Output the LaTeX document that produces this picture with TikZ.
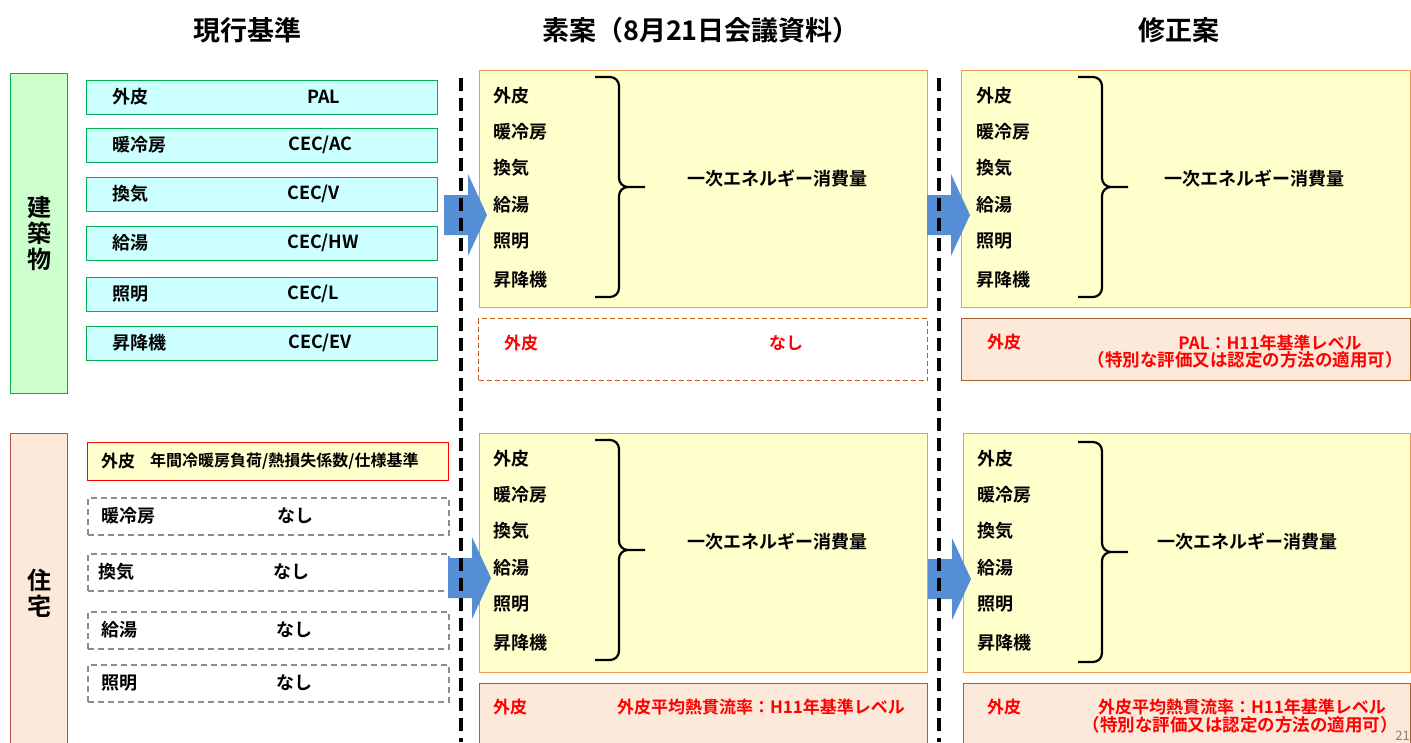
\documentclass[tikz,border=0pt]{standalone}
\usepackage{fontspec}
\setmainfont{Noto Sans CJK JP}[BoldFont=* Bold]
\usetikzlibrary{positioning}
\definecolor{lgreen}{HTML}{CCFFCC}
\definecolor{dgreen}{HTML}{00B050}
\definecolor{lcyan}{HTML}{CCFFFF}
\definecolor{lyellow}{HTML}{FFFFCC}
\definecolor{orangeline}{HTML}{F39A4E}
\definecolor{lpeach}{HTML}{FDE9D9}
\definecolor{brownline}{HTML}{A5642E}
\definecolor{redline}{HTML}{B5504A}
\definecolor{dashbrown}{HTML}{C55A11}
\definecolor{flowblue}{HTML}{558ED5}
\begin{document}
\begin{tikzpicture}[x=1pt,y=-1pt,
  box/.style={rectangle,anchor=north west,inner sep=0pt,line width=1.3pt},
  heading/.style={font=\fontsize{27}{30}\selectfont\bfseries},
  side/.style={font=\fontsize{24}{26}\selectfont\bfseries,align=center},
  lbl/.style={anchor=west,inner sep=0pt,font=\fontsize{18}{20}\selectfont\bfseries},
  redlbl/.style={inner sep=0pt,text=red,font=\fontsize{17}{19}\selectfont\bfseries},
  flow/.style={fill=flowblue},
  divider/.style={line width=3.2pt,dash pattern=on 13pt off 7pt},
  brace/.style={line width=2.2pt,rounded corners=9pt}]
\useasboundingbox (0,0) rectangle (1411,742);

% headings
\node (h1) at (247,30) [heading]{現行基準};
\node (h2) at (701,30) [heading]{素案（8月21日会議資料）};
\node (h3) at (1179,30) [heading]{修正案};

% current standard: buildings
\node (bld) at (10,73) [box,draw=dgreen,fill=lgreen,minimum width=57pt,minimum height=320pt]{};
\node (bldt) at (bld.center) [side]{建\\築\\物};
\foreach \ty/\a/\b/\bx [count=\i] in {80/外皮/PAL/307,128/暖冷房/{CEC/AC}/288,177/換気/{CEC/V}/287,
    226/給湯/{CEC/HW}/287,277/照明/{CEC/L}/287,326/昇降機/{CEC/EV}/288}{
  \node (c\i) at (86,\ty) [box,draw=dgreen,fill=lcyan,minimum width=351pt,minimum height=34pt]{};
  \node (c\i l) at (112,\ty+17) [lbl]{\a};
  \node (c\i r) at (\bx,\ty+17) [lbl]{\b};
}

% current standard: houses
\node (hse) at (10,433) [box,draw=redline,fill=lpeach,minimum width=57pt,minimum height=320pt]{};
\node (hset) at (hse.center) [side]{住\\宅};
\node (env) at (87,442) [box,draw=red,fill=lyellow,minimum width=361pt,minimum height=38pt]{};
\node (envl) at (101,461) [lbl,font=\fontsize{17}{19}\selectfont\bfseries]{外皮};
\node (envr) at (150,461) [lbl,font=\fontsize{16}{18}\selectfont\bfseries]{年間冷暖房負荷/熱損失係数/仕様基準};
\foreach \ty/\a/\lx/\nx [count=\i] in {497/暖冷房/101/277,553/換気/98/273,611/給湯/101/276,664/照明/101/276}{
  \node (n\i) at (87,\ty) [box,draw=gray!90,line width=1.6pt,dash pattern=on 6pt off 4pt,minimum width=361pt,minimum height=37pt]{};
  \node (n\i l) at (\lx,\ty+19) [lbl]{\a};
  \node (n\i r) at (\nx,\ty+19) [lbl]{なし};
}

% proposal and revised proposal
\node (p1) at (479,70) [box,draw=orangeline,fill=lyellow,minimum width=448pt,minimum height=237pt]{};
\node (p2) at (479,433) [box,draw=orangeline,fill=lyellow,minimum width=448pt,minimum height=239pt]{};
\node (q1) at (961,70) [box,draw=orangeline,fill=lyellow,minimum width=449pt,minimum height=237pt]{};
\node (q2) at (963,433) [box,draw=orangeline,fill=lyellow,minimum width=447pt,minimum height=239pt]{};
\foreach \px/\py/\k in {493/0/a,493/363/b,976/0/c,977/363/d}
  \foreach \ty/\t [count=\i] in {96/外皮,132/暖冷房,168/換気,205/給湯,241/照明,280/昇降機}
    \node (\k\i) at (\px,\ty+\py) [lbl]{\t};
\foreach \bx/\by in {595/187,595/550,1078/187,1078/552}
  \draw[brace,shift={(\bx,\by)}] (0,-110) -- (24,-110) -- (24,0) -- (50,0)
    (50,0) -- (24,0) -- (24,110) -- (0,110);
\node (e1) at (777,179) [lbl,anchor=center]{一次エネルギー消費量};
\node (e2) at (777,542) [lbl,anchor=center]{一次エネルギー消費量};
\node (e3) at (1254,179) [lbl,anchor=center]{一次エネルギー消費量};
\node (e4) at (1247,542) [lbl,anchor=center]{一次エネルギー消費量};

% envelope rows
\node (p1e) at (478,318) [box,draw=dashbrown,dash pattern=on 5pt off 3pt,line width=1pt,minimum width=449pt,minimum height=62pt]{};
\node (p1el) at (504,343) [redlbl,anchor=west]{外皮};
\node (p1er) at (786,343) [redlbl]{なし};
\node (q1e) at (961,318) [box,draw=brownline,fill=lpeach,minimum width=449pt,minimum height=62pt]{};
\node (q1el) at (987,342) [redlbl,anchor=west]{外皮};
\node (q1er) at (1270,343) [redlbl]{PAL：H11年基準レベル};
\node (q1ex) at (1245,360) [redlbl,font=\fontsize{17.5}{19}\selectfont\bfseries]{（特別な評価又は認定の方法の適用可）};
\node (p2e) at (479,683) [box,draw=brownline,fill=lpeach,minimum width=448pt,minimum height=70pt]{};
\node (p2el) at (493,707) [redlbl,anchor=west]{外皮};
\node (p2er) at (761,707) [redlbl]{外皮平均熱貫流率：H11年基準レベル};
\node (q2e) at (963,683) [box,draw=brownline,fill=lpeach,minimum width=447pt,minimum height=70pt]{};
\node (q2el) at (987,707) [redlbl,anchor=west]{外皮};
\node (q2er) at (1242,707) [redlbl]{外皮平均熱貫流率：H11年基準レベル};
\node (q2ex) at (1240,725) [redlbl,font=\fontsize{17.5}{19}\selectfont\bfseries]{（特別な評価又は認定の方法の適用可）};

% flow arrows
\foreach \ax/\ay in {444/215,927/215,448/578,928/579}
  \fill[flow,shift={(\ax,\ay)}] (0,-20) -- (24,-20) -- (24,-41) -- (43,0) -- (24,41) -- (24,20) -- (0,20) -- cycle;

% column dividers
\coordinate (d1a) at (461,78);
\coordinate (d1b) at (461,742);
\coordinate (d2a) at (939,78);
\coordinate (d2b) at (939,742);
\draw[divider] (d1a) -- (d1b);
\draw[divider] (d2a) -- (d2b);

\node (pg) at (1410,741) [anchor=south east,inner sep=0pt,text=gray,font=\fontsize{13}{15}\selectfont]{21};
\end{tikzpicture}
\end{document}
